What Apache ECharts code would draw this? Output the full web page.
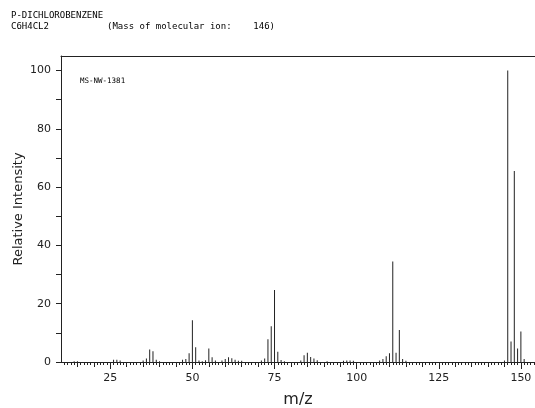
<!DOCTYPE html>
<html><head><meta charset="utf-8">
<script src="https://cdn.jsdelivr.net/npm/echarts@6/dist/echarts.min.js"></script>
<style>html,body{margin:0;padding:0;background:#fff}#c{width:535px;height:408px}</style>
</head><body><div id="c"></div>
<script>
// m/z values and relative intensities
const mzValues = [14,15,26,27,28,35,36,37,38,39,40,47,48,49,50,51,52,53,54,55,56,57,59,60,61,62,63,64,65,71,72,73,74,75,76,77,78,83,84,85,86,87,88,91,96,97,98,99,107,108,109,110,111,112,113,114,115,145,146,147,148,149,150,151];
const intensities = [0.3,0.3,0.8,0.8,0.5,0.5,1.2,4.3,3.7,0.8,0.3,0.8,1.0,3.0,14.3,5.1,0.5,0.3,0.6,4.6,1.6,0.5,0.5,1.0,1.6,1.3,0.8,0.4,0.4,0.5,1.2,7.8,12.3,24.7,3.5,0.7,0.3,0.5,2.3,3.2,1.7,1.2,0.6,0.3,0.4,0.5,0.5,0.4,0.5,1.0,2.0,3.0,34.5,3.2,11.0,1.0,0.4,0.5,100,7.0,65.5,4.6,10.5,1.0];

const xLabelTicks = [25,50,75,100,125,150];
const yLabelTicks = [0,20,40,60,80,100];
const yTickValues = [0,10,20,30,40,50,60,70,80,90,100];
const xFiveTicks = [15,20,25,30,35,40,45,50,55,60,65,70,75,80,85,90,95,100,105,110,115,120,125,130,135,140,145,150];
const xUnitTicks = [];
for (let v = 11; v <= 154; v++) xUnitTicks.push(v);

const X_MIN = 10, X_MAX = 154.3, Y_MIN = 0, Y_MAX = 105;

const chart = echarts.init(document.getElementById('c'), null, {renderer: 'canvas'});
const axisColor = '#222';
const baseX = {
  type: 'value', min: X_MIN, max: X_MAX, position: 'bottom', gridIndex: 0,
  splitLine: {show: false}, axisLabel: {show: false}, axisTick: {show: false}, axisLine: {show: false}
};
chart.setOption({
  animation: false,
  backgroundColor: '#fff',
  textStyle: {fontFamily: 'DejaVu Sans'},
  grid: {left: 61, right: 0, top: 56, bottom: 46, containLabel: false, outerBoundsMode: 'none'},
  graphic: [
    {type: 'text', left: 11, top: 11, style: {text: 'P-DICHLOROBENZENE', font: '9px "DejaVu Sans Mono"', fill: '#000'}},
    {type: 'text', left: 11, top: 22, style: {text: 'C6H4CL2', font: '9px "DejaVu Sans Mono"', fill: '#000'}},
    {type: 'text', left: 107, top: 22, style: {text: '(Mass of molecular ion:    146)', font: '9px "DejaVu Sans Mono"', fill: '#000'}},
    {type: 'text', left: 80, top: 77, style: {text: 'MS-NW-1381', font: '7.5px "DejaVu Sans Mono"', fill: '#000'}}
  ],
  xAxis: [
    Object.assign({}, baseX, {
      axisLine: {show: true, onZero: false, lineStyle: {color: axisColor, width: 1}},
      axisTick: {show: true, customValues: xUnitTicks, length: 3, lineStyle: {color: axisColor}}
    }),
    Object.assign({}, baseX, {
      axisTick: {show: true, customValues: xFiveTicks, length: 5, lineStyle: {color: axisColor}}
    }),
    Object.assign({}, baseX, {
      axisTick: {show: true, customValues: xLabelTicks, length: 7, lineStyle: {color: axisColor}},
      axisLabel: {show: true, customValues: xLabelTicks, margin: 11, fontSize: 11, color: '#222', fontFamily: 'DejaVu Sans'},
      name: 'm/z', nameLocation: 'middle', nameGap: 30, nameMoveOverlap: false,
      nameTextStyle: {fontSize: 16, color: '#222', fontFamily: 'DejaVu Sans'}
    }),
    Object.assign({}, baseX, {
      position: 'top',
      axisLine: {show: true, onZero: false, lineStyle: {color: axisColor, width: 1}}
    })
  ],
  yAxis: [{
    type: 'value', min: Y_MIN, max: Y_MAX, position: 'left',
    splitLine: {show: false},
    axisLine: {show: true, onZero: false, lineStyle: {color: axisColor, width: 1}},
    axisTick: {show: true, customValues: yTickValues, length: 5, lineStyle: {color: axisColor}},
    axisLabel: {customValues: yLabelTicks, margin: 10, fontSize: 11, color: '#222', fontFamily: 'DejaVu Sans'},
    name: 'Relative Intensity', nameLocation: 'middle', nameGap: 36, nameMoveOverlap: false,
    nameTextStyle: {fontSize: 13, color: '#222', fontFamily: 'DejaVu Sans'}
  }],
  series: [{
    type: 'bar', xAxisIndex: 0, yAxisIndex: 0, barWidth: 1, silent: true,
    itemStyle: {color: '#222'},
    data: mzValues.map((m, i) => [m, intensities[i]])
  }]
});
</script></body></html>
